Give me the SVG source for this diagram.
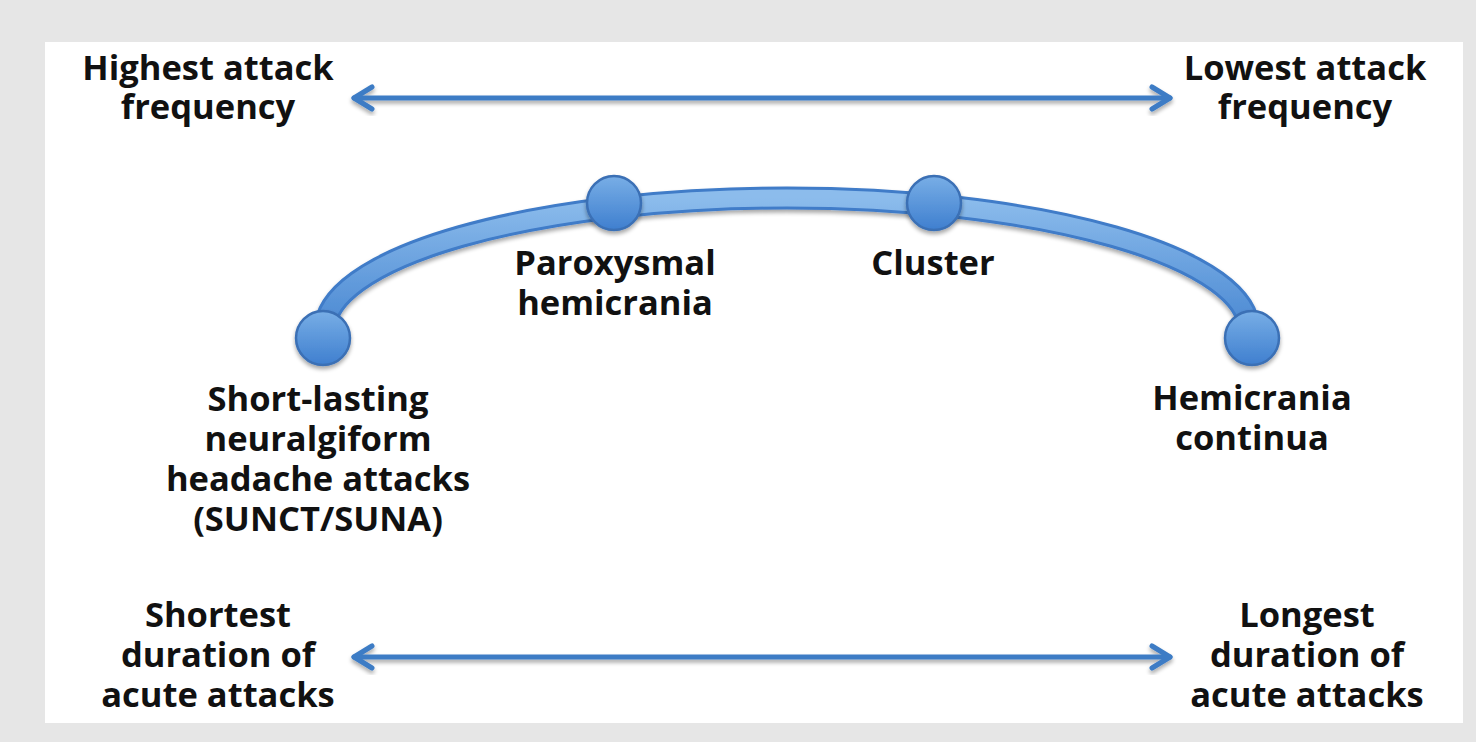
<svg xmlns="http://www.w3.org/2000/svg" width="1476" height="742" viewBox="0 0 1476 742">
<defs>
<style>
.t{font-family:"Open Sans","Liberation Sans",sans-serif;font-weight:700;font-size:34.5px;fill:#111;text-anchor:middle}
.ar{stroke:#3d7cc5;stroke-width:5;fill:none;stroke-linecap:round;stroke-linejoin:round}
.node{fill:url(#ng);stroke:#3a6fb5;stroke-width:2.5}
</style>
<linearGradient id="ng" x1="0" y1="0" x2="0" y2="1">
<stop offset="0" stop-color="#78aee6"/>
<stop offset="1" stop-color="#3f7fcf"/>
</linearGradient>
<linearGradient id="ag" x1="0" y1="0" x2="0" y2="1">
<stop offset="0" stop-color="#8cbcec"/>
<stop offset="1" stop-color="#4a88d2"/>
</linearGradient>
<filter id="sh" x="-20%" y="-20%" width="140%" height="150%">
<feGaussianBlur in="SourceAlpha" stdDeviation="2"/>
<feOffset dx="0" dy="3"/>
<feComponentTransfer><feFuncA type="linear" slope="0.35"/></feComponentTransfer>
<feMerge><feMergeNode/><feMergeNode in="SourceGraphic"/></feMerge>
</filter>
</defs>
<rect width="1476" height="742" fill="#e6e6e6"/>
<rect x="45" y="42" width="1418" height="681" fill="#ffffff"/>

<g id="connectors">
<g filter="url(#sh)">
<path d="M325,330 A462,132 0 0 1 1249,330" fill="none" stroke="#3f7bc8" stroke-width="23" stroke-linecap="round"/>
<path d="M325,330 A462,132 0 0 1 1249,330" fill="none" stroke="url(#ag)" stroke-width="17" stroke-linecap="round"/>
</g>
<g id="arrow-frequency" filter="url(#sh)">
<path class="ar" d="M354,98 H1170"/>
<path class="ar" d="M372,87 L354,98 L372,109"/>
<path class="ar" d="M1152,87 L1170,98 L1152,109"/>
</g>
<g id="arrow-duration" filter="url(#sh)">
<path class="ar" d="M354,657 H1170"/>
<path class="ar" d="M372,646 L354,657 L372,668"/>
<path class="ar" d="M1152,646 L1170,657 L1152,668"/>
</g>
</g>

<g id="node-sunct">
<circle class="node" cx="323" cy="338" r="27" filter="url(#sh)"/>
<text class="t" x="318" y="411">Short-lasting</text>
<text class="t" x="318" y="451">neuralgiform</text>
<text class="t" x="318" y="491">headache attacks</text>
<text class="t" x="318" y="531">(SUNCT/SUNA)</text>
</g>
<g id="node-paroxysmal">
<circle class="node" cx="614" cy="203" r="27" filter="url(#sh)"/>
<text class="t" x="615" y="275">Paroxysmal</text>
<text class="t" x="615" y="315">hemicrania</text>
</g>
<g id="node-cluster">
<circle class="node" cx="934" cy="203" r="27" filter="url(#sh)"/>
<text class="t" x="933" y="275">Cluster</text>
</g>
<g id="node-hc">
<circle class="node" cx="1252" cy="338" r="27" filter="url(#sh)"/>
<text class="t" x="1252" y="410">Hemicrania</text>
<text class="t" x="1252" y="450">continua</text>
</g>

<g id="label-highest">
<text class="t" x="208" y="80">Highest attack</text>
<text class="t" x="208" y="119">frequency</text>
</g>
<g id="label-lowest">
<text class="t" x="1305" y="80">Lowest attack</text>
<text class="t" x="1305" y="119">frequency</text>
</g>
<g id="label-shortest">
<text class="t" x="218" y="627">Shortest</text>
<text class="t" x="218" y="667">duration of</text>
<text class="t" x="218" y="707">acute attacks</text>
</g>
<g id="label-longest">
<text class="t" x="1307" y="627">Longest</text>
<text class="t" x="1307" y="667">duration of</text>
<text class="t" x="1307" y="707">acute attacks</text>
</g>
</svg>
